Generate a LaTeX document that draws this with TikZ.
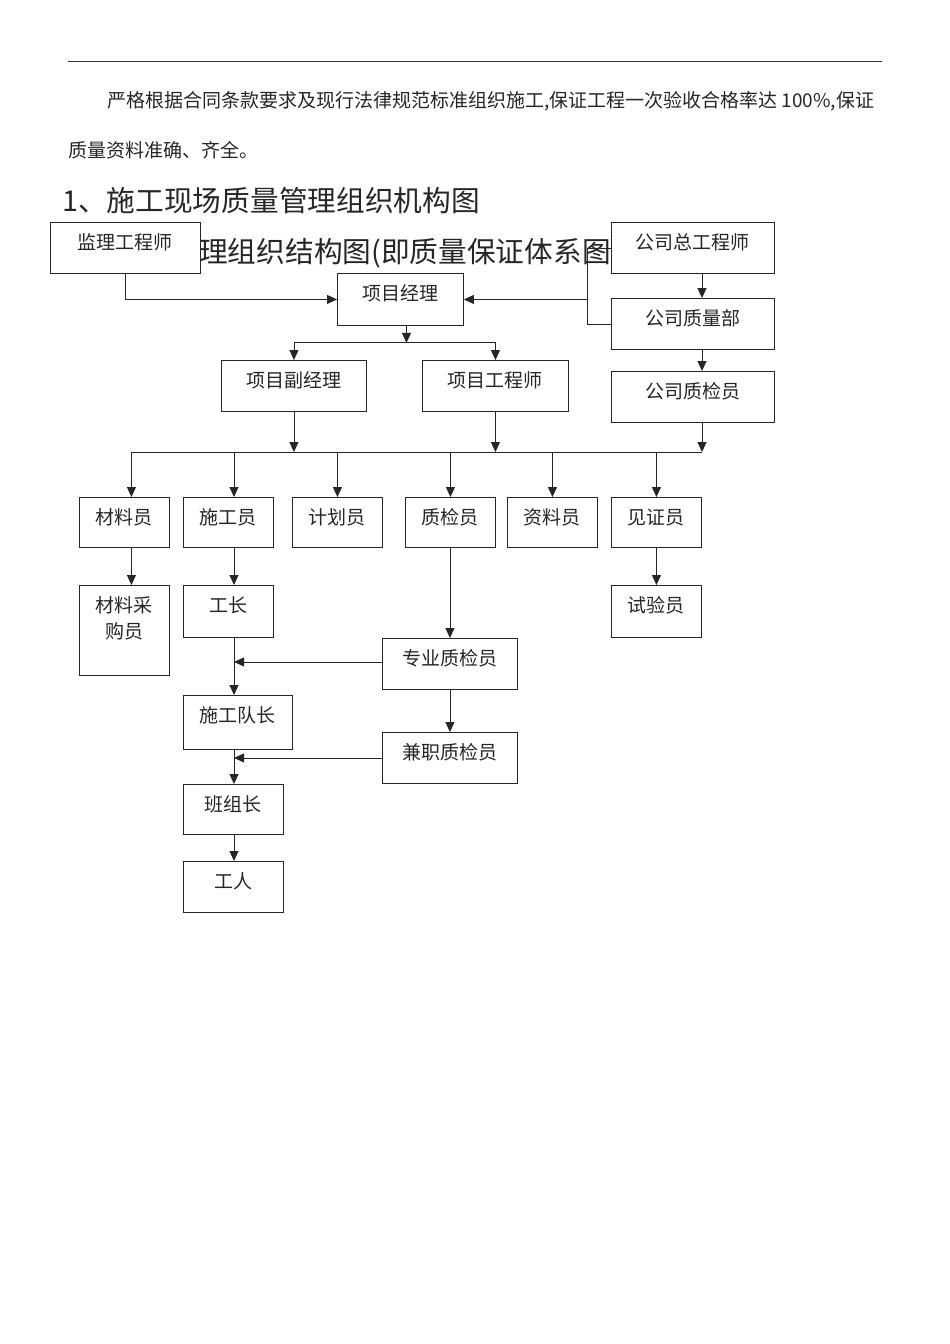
\documentclass[tikz,border=0pt]{standalone}
\usepackage{fontspec}
\setmainfont{Noto Sans CJK SC}
\usepackage{tikz}
\usetikzlibrary{arrows.meta,positioning}
\tikzset{
  cargo/.style={rectangle, draw=black!85, fill=white, line width=0.9pt,
                inner sep=0pt, align=center, text=black!85,
                font=\fontsize{19}{26}\selectfont, text height=27pt,
                anchor=north west},
  texto/.style={anchor=base west, inner sep=0pt, text=black!85},
  flecha/.style={-{Triangle[length=10pt,width=9pt]}, line width=0.9pt, draw=black!85},
  linea/.style={line width=0.9pt, draw=black!85}
}

\begin{document}
\begin{tikzpicture}[x=1pt, y=-1pt]
  \fill[white] (0,0) rectangle (950,1344);
  \path[use as bounding box] (0,0) rectangle (950,1344);

  % Texto de la pagina
  \draw[line width=1pt, black!80] (68,61) -- (882,61);
  \node[texto, font=\fontsize{19}{26}\selectfont] (p1) at (107,107)
    {严格根据合同条款要求及现行法律规范标准组织施工,保证工程一次验收合格率达 100\%,保证};
  \node[texto, font=\fontsize{19}{26}\selectfont] (p2) at (68,157) {质量资料准确、齐全。};
  \node[texto, font=\fontsize{28.7}{34}\selectfont] (t1) at (62,211) {1、施工现场质量管理组织机构图};
  \node[texto, font=\fontsize{28.7}{34}\selectfont] (t2) at (199,262) {理组织结构图(即质量保证体系图};

  % Direccion
  \node[cargo, minimum width=150pt, minimum height=51pt, text depth=24pt] (jianli) at (50,222) {监理工程师};
  \node[cargo, minimum width=126pt, minimum height=52pt, text depth=25pt] (jingli) at (337,273) {项目经理};
  \node[cargo, minimum width=163pt, minimum height=51pt, text depth=24pt] (zonggong) at (611,222) {公司总工程师};
  \node[cargo, minimum width=163pt, minimum height=51pt, text depth=24pt] (zhiliangbu) at (611,298) {公司质量部};
  \node[cargo, minimum width=163pt, minimum height=51pt, text depth=24pt] (gongsizj) at (611,371) {公司质检员};
  \node[cargo, minimum width=145pt, minimum height=51pt, text depth=24pt] (fujingli) at (221,360) {项目副经理};
  \node[cargo, minimum width=146pt, minimum height=51pt, text depth=24pt] (gongchengshi) at (422,360) {项目工程师};

  % Fila de cargos
  \node[cargo, minimum width=90pt, minimum height=50pt, text depth=23pt] (cailiao) at (79,497) {材料员};
  \node[cargo, minimum width=90pt, minimum height=50pt, text depth=23pt] (shigong) at (183,497) {施工员};
  \node[cargo, minimum width=90pt, minimum height=50pt, text depth=23pt] (jihua) at (292,497) {计划员};
  \node[cargo, minimum width=90pt, minimum height=50pt, text depth=23pt] (zhijian) at (405,497) {质检员};
  \node[cargo, minimum width=90pt, minimum height=50pt, text depth=23pt] (ziliao) at (507,497) {资料员};
  \node[cargo, minimum width=90pt, minimum height=50pt, text depth=23pt] (jianzheng) at (611,497) {见证员};

  % Abajo
  \node[cargo, minimum width=90pt, minimum height=90pt, text height=53pt, text depth=37pt] (caigou) at (79,585) {材料采\\购员};
  \node[cargo, minimum width=90pt, minimum height=52pt, text depth=25pt] (gongzhang) at (183,585) {工长};
  \node[cargo, minimum width=90pt, minimum height=52pt, text depth=25pt] (shiyan) at (611,585) {试验员};
  \node[cargo, minimum width=135pt, minimum height=51pt, text depth=24pt] (zhuanye) at (382,638) {专业质检员};
  \node[cargo, minimum width=109pt, minimum height=54pt, text depth=27pt] (duizhang) at (183,695) {施工队长};
  \node[cargo, minimum width=135pt, minimum height=51pt, text depth=24pt] (jianzhi) at (382,732) {兼职质检员};
  \node[cargo, minimum width=100pt, minimum height=50pt, text depth=23pt] (banzu) at (183,784) {班组长};
  \node[cargo, minimum width=100pt, minimum height=51pt, text depth=24pt] (gongren) at (183,861) {工人};

  \coordinate (codo) at (587,0);
  \coordinate (eje) at (234,0);
  \coordinate (ejeg) at (702,0);
  \coordinate (barra) at (0,452);

  % Conexiones arriba
  \draw[flecha] (jianli.south) |- (jingli.west);
  \draw[linea] (zonggong.west) -- (zonggong.west -| codo) |- (zhiliangbu.west);
  \draw[flecha] (jingli.east -| codo) -- (jingli.east);
  \draw[flecha] (zonggong.south -| ejeg) -- (zhiliangbu.north -| ejeg);
  \draw[flecha] (zhiliangbu.south -| ejeg) -- (gongsizj.north -| ejeg);
  \draw[flecha] ([xshift=6pt]jingli.south) -- ++(0,17) coordinate (rama);
  \draw[flecha] (rama) -| (fujingli.north);
  \draw[flecha] (rama) -| (gongchengshi.north);

  % Barra
  \draw[flecha] (fujingli.south) -- (fujingli.south |- barra);
  \draw[flecha] (gongchengshi.south) -- (gongchengshi.south |- barra);
  \draw[flecha] (gongsizj.south -| ejeg) -- (barra -| ejeg);
  \draw[linea] ([xshift=7pt]cailiao.north |- barra) -- (barra -| ejeg);
  \draw[flecha] ([xshift=7pt]cailiao.north |- barra) -- ([xshift=7pt]cailiao.north);
  \draw[flecha] (barra -| eje) -- (shigong.north -| eje);
  \foreach \n in {jihua,zhijian,ziliao,jianzheng}
    \draw[flecha] (\n.north |- barra) -- (\n.north);

  % Conexiones abajo
  \draw[flecha] ([xshift=7pt]cailiao.south) -- ([xshift=7pt]caigou.north);
  \draw[flecha] (shigong.south -| eje) -- (gongzhang.north -| eje);
  \draw[flecha] (jianzheng.south) -- (shiyan.north);
  \draw[flecha] (zhuanye.north |- zhijian.south) -- (zhuanye.north);
  \draw[flecha] (gongzhang.south -| eje) -- (duizhang.north -| eje);
  \draw[flecha] ([yshift=2pt]zhuanye.west) -- ([yshift=2pt]zhuanye.west -| eje);
  \draw[flecha] (zhuanye.south) -- (jianzhi.north);
  \draw[flecha] (duizhang.south -| eje) -- (banzu.north -| eje);
  \draw[flecha] (jianzhi.west) -- (jianzhi.west -| eje);
  \draw[flecha] (banzu.south -| eje) -- (gongren.north -| eje);
\end{tikzpicture}
\end{document}
